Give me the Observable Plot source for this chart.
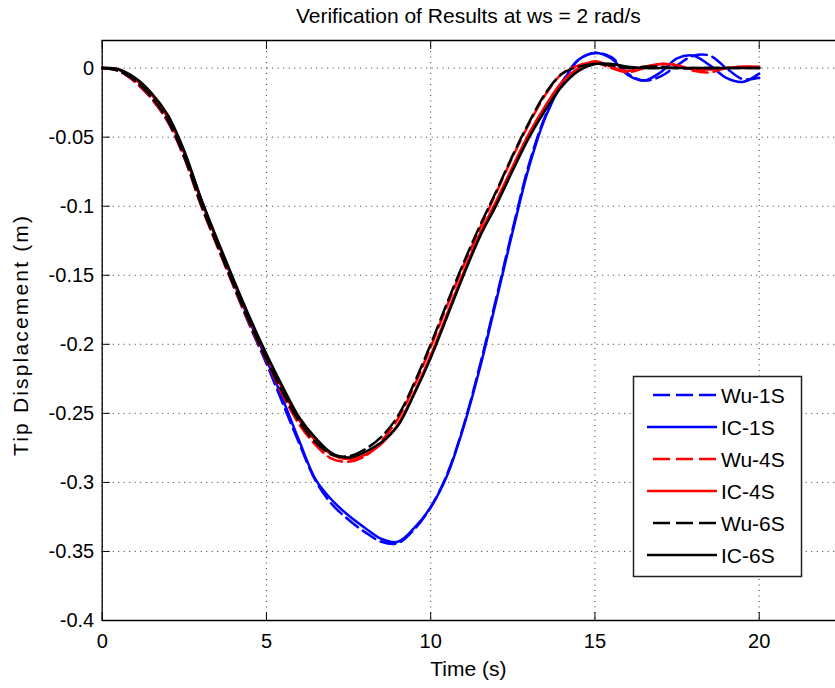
<!DOCTYPE html>
<html><head><meta charset="utf-8">
<script src="https://cdn.jsdelivr.net/npm/d3@7"></script>
<script src="https://cdn.jsdelivr.net/npm/@observablehq/plot@0.6"></script>
<style>body{margin:0;background:#fff}</style>
</head><body><div id="chart"></div>
<script>
const time = [0,0.5,1,1.5,2,2.5,3,3.5,4,4.5,5,5.5,6,6.5,7,7.5,8,8.5,9,9.5,10,10.5,11,11.5,12,12.5,13,13.5,14,14.5,15,15.5,16,16.5,17,17.5,18,18.5,19,19.5,20];
const wu1S = [0,-0.002,-0.010,-0.022,-0.039,-0.065,-0.098,-0.128,-0.158,-0.187,-0.214,-0.243,-0.272,-0.299,-0.316,-0.327,-0.336,-0.343,-0.344,-0.334,-0.318,-0.294,-0.259,-0.215,-0.166,-0.116,-0.069,-0.034,-0.010,0.006,0.011,0.008,-0.004,-0.009,-0.006,0.002,0.009,0.009,0.000,-0.008,-0.007];
const ic1S = [0,-0.001,-0.008,-0.019,-0.035,-0.061,-0.094,-0.125,-0.155,-0.184,-0.211,-0.240,-0.270,-0.298,-0.313,-0.324,-0.333,-0.341,-0.343,-0.333,-0.318,-0.295,-0.260,-0.217,-0.168,-0.118,-0.071,-0.035,-0.011,0.006,0.011,0.007,-0.005,-0.009,-0.003,0.007,0.009,0.002,-0.007,-0.010,-0.004];
const wu4S = [0,-0.002,-0.010,-0.022,-0.039,-0.065,-0.099,-0.129,-0.158,-0.186,-0.212,-0.237,-0.258,-0.273,-0.283,-0.285,-0.281,-0.270,-0.254,-0.230,-0.202,-0.172,-0.143,-0.116,-0.090,-0.064,-0.040,-0.019,-0.004,0.002,0.004,0.000,-0.003,0.000,0.003,0.002,-0.002,-0.003,0.000,0.001,0.000];
const ic4S = [0,-0.001,-0.008,-0.019,-0.036,-0.062,-0.095,-0.125,-0.154,-0.182,-0.208,-0.233,-0.255,-0.270,-0.280,-0.283,-0.280,-0.272,-0.258,-0.235,-0.208,-0.178,-0.148,-0.120,-0.096,-0.071,-0.047,-0.027,-0.010,0.000,0.005,0.001,-0.002,0.001,0.003,0.002,-0.001,-0.001,0.000,0.001,0.001];
const wu6S = [0,-0.002,-0.009,-0.021,-0.038,-0.064,-0.098,-0.128,-0.157,-0.185,-0.211,-0.235,-0.256,-0.271,-0.280,-0.281,-0.276,-0.267,-0.252,-0.228,-0.200,-0.170,-0.141,-0.114,-0.089,-0.063,-0.039,-0.018,-0.004,0.001,0.003,0.002,0.000,0.001,0.001,0,0,0,0,0,0];
const ic6S = [0,-0.001,-0.007,-0.018,-0.034,-0.060,-0.094,-0.124,-0.153,-0.181,-0.207,-0.231,-0.253,-0.268,-0.279,-0.282,-0.278,-0.271,-0.259,-0.236,-0.210,-0.180,-0.150,-0.122,-0.099,-0.074,-0.050,-0.030,-0.013,-0.002,0.003,0.003,0.001,0,0,0,0,0,0,0,0];

const seriesNames = ["Wu-1S","IC-1S","Wu-4S","IC-4S","Wu-6S","IC-6S"];
const seriesValues = [wu1S, ic1S, wu4S, ic4S, wu6S, ic6S];
const seriesColors = ["#0000ff","#0000ff","#ff0000","#ff0000","#000000","#000000"];
const seriesDashed = [true,false,true,false,true,false];

const xTicks = [0,5,10,15,20];
const yTicks = [0,-0.05,-0.1,-0.15,-0.2,-0.25,-0.3,-0.35,-0.4];

const titleText = "Verification of Results at ws = 2 rad/s";
const xLabel = "Time (s)";
const yLabel = "Tip Displacement (m)";

const W = 835, H = 688;
const mL = 101.7, mR = 0, mT = 40, mB = 68;
const pxPerSec = 32.85;
const xMax = (W - mL - mR) / pxPerSec;

const gridStyle = {stroke: "#000", strokeOpacity: 0.8, strokeDasharray: "1,4.5", strokeWidth: 1};

const lineMarks = seriesNames.map((name, i) => {
  const rows = time.map((t, j) => ({t, v: seriesValues[i][j], name}));
  return Plot.line(rows, {
    x: "t", y: "v",
    stroke: seriesColors[i],
    strokeWidth: 2.5,
    strokeDasharray: seriesDashed[i] ? "15,6" : null,
    curve: "catmull-rom"
  });
});

const svg = Plot.plot({
  width: W, height: H,
  marginLeft: mL, marginRight: mR, marginTop: mT, marginBottom: mB,
  style: {fontFamily: "'Liberation Sans', Arial, sans-serif", fontSize: "20px", background: "#fff", color: "#000"},
  x: {domain: [0, xMax], axis: null},
  y: {domain: [-0.4, 0.02], axis: null},
  marks: [
    Plot.gridX(xTicks, gridStyle),
    Plot.gridY(yTicks, gridStyle),
    ...lineMarks,
    Plot.ruleX([0], {stroke: "#000", strokeWidth: 1.3}),
    Plot.ruleY([-0.4, 0.02], {stroke: "#000", strokeWidth: 1.3}),
    Plot.axisX(xTicks, {anchor: "bottom", label: null, tickSize: -8, tickPadding: 21, tickFormat: d => String(d), fontSize: 20, stroke: "#000"}),
    Plot.axisX(xTicks, {anchor: "top", label: null, tickSize: -8, tickFormat: () => "", stroke: "#000"}),
    Plot.axisY(yTicks, {anchor: "left", label: null, tickSize: -8, tickPadding: 16, tickFormat: d => String(d), fontSize: 20, stroke: "#000"})
  ]
});

const s = d3.select(svg);
const font = "'Liberation Sans', Arial, sans-serif";
s.append("text").attr("x", (mL + W - mR) / 2).attr("y", 22.5)
  .attr("text-anchor", "middle").attr("font-family", font).attr("font-size", 21).attr("fill", "#000").text(titleText);
s.append("text").attr("x", (mL + W - mR) / 2).attr("y", 676)
  .attr("text-anchor", "middle").attr("font-family", font).attr("font-size", 21).attr("fill", "#000").text(xLabel);
s.append("text").attr("transform", "translate(28,336) rotate(-90)")
  .attr("text-anchor", "middle").attr("font-family", font).attr("font-size", 21).attr("fill", "#000")
  .attr("textLength", 240).attr("lengthAdjust", "spacing").text(yLabel);

// legend
const lg = s.append("g");
lg.append("rect").attr("x", 633.5).attr("y", 376.5).attr("width", 168).attr("height", 200)
  .attr("fill", "#fff").attr("stroke", "#222").attr("stroke-width", 1.5);
seriesNames.forEach((name, i) => {
  const cy = 395 + i * 32;
  lg.append("line").attr("x1", seriesDashed[i] ? 653 : 647).attr("x2", 717).attr("y1", cy).attr("y2", cy)
    .attr("stroke", seriesColors[i]).attr("stroke-width", 2.5)
    .attr("stroke-dasharray", seriesDashed[i] ? "17,6" : null);
  lg.append("text").attr("x", 721).attr("y", cy + 7.5).attr("text-anchor", "start")
    .attr("font-family", font).attr("font-size", 21)
    .attr("fill", "#000").text(name);
});

document.getElementById("chart").appendChild(svg);
</script></body></html>
